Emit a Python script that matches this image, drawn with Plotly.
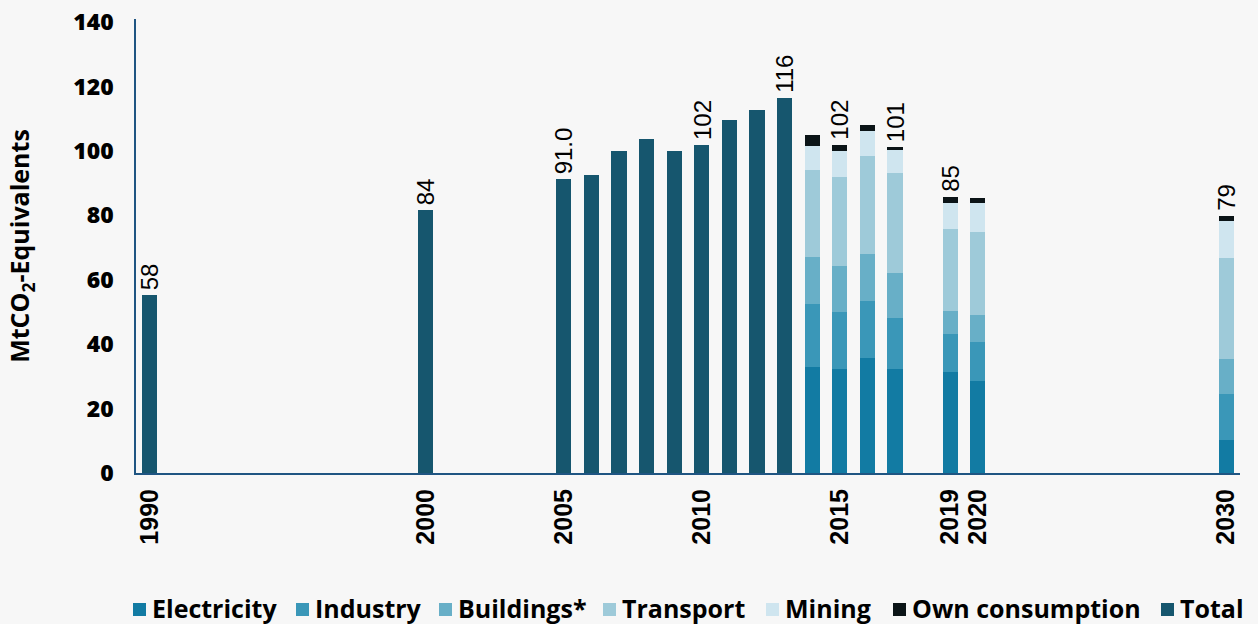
import plotly.graph_objects as go

# ---- data ----
total_years = ["1990", "2000", "2005", "2006", "2007", "2008", "2009", "2010", "2011", "2012", "2013"]
total_values = [55.3, 81.7, 91.3, 92.4, 100.1, 103.6, 100.1, 101.8, 109.7, 112.7, 116.4]

sector_years = ["2014", "2015", "2016", "2017", "2019", "2020", "2030"]
electricity = [33.0, 32.3, 35.8, 32.3, 31.4, 28.6, 10.4]
industry = [19.5, 17.6, 17.5, 15.8, 11.7, 12.1, 14.1]
buildings = [14.5, 14.3, 14.8, 13.9, 7.1, 8.4, 10.9]
transport = [27.0, 27.6, 30.5, 31.2, 25.7, 25.8, 31.4]
mining = [7.5, 8.2, 7.7, 7.2, 8.0, 8.9, 11.4]
own_consumption = [3.5, 1.9, 1.8, 0.8, 1.8, 1.7, 1.6]

label_years = ["1990", "2000", "2005", "2010", "2013", "2015", "2017", "2019", "2030"]
label_texts = ["58", "84", "91.0", "102", "116", "102", "101", "85", "79"]

category_order = [str(y) for y in range(1990, 2029)] + ["2030"]
tick_years = ["1990", "2000", "2005", "2010", "2015", "2019", "2020", "2030"]

# ---- style ----
colors = {
    "Electricity": "#127ba3",
    "Industry": "#3a97b8",
    "Buildings*": "#68afc7",
    "Transport": "#9ecad9",
    "Mining": "#cfe5ef",
    "Own consumption": "#0b1417",
    "Total": "#16566e",
}
bg = "#f7f7f7"
axis_col = "#1f5582"

W, H = 1258, 624
ML, MR, MT, MB = 136, 18, 19, 151
PW, PH = W - ML - MR, H - MT - MB

fig = go.Figure()
series = [
    ("Electricity", electricity),
    ("Industry", industry),
    ("Buildings*", buildings),
    ("Transport", transport),
    ("Mining", mining),
    ("Own consumption", own_consumption),
]
for name, vals in series:
    fig.add_trace(go.Bar(x=sector_years, y=vals, name=name, marker_color=colors[name],
                         marker_line_width=0, showlegend=False))
fig.add_trace(go.Bar(x=total_years, y=total_values, name="Total", marker_color=colors["Total"],
                     marker_line_width=0, showlegend=False))

# totals for labels
totals = dict(zip(total_years, total_values))
for i, yr in enumerate(sector_years):
    totals[yr] = sum(v[i] for _, v in series)

for yr, txt in zip(label_years, label_texts):
    fig.add_annotation(x=category_order.index(yr), y=totals[yr], text=txt, showarrow=False,
                       textangle=-90, yanchor="bottom", xanchor="center", yshift=3,
                       font=dict(family="Liberation Sans", size=24, color="#000000"))

# ---- legend (drawn as key squares + labels below the plot) ----
legend_names = [n for n, _ in series] + ["Total"]
legend_px = [133, 296, 439, 603, 766, 893, 1161]   # left edge of each key square (px)
key = 13
key_top, key_bot = 603, 616
for name, px in zip(legend_names, legend_px):
    fig.add_shape(type="rect", xref="paper", yref="paper",
                  x0=(px - ML) / PW, x1=(px + key - ML) / PW,
                  y0=(H - MB - key_bot) / PH, y1=(H - MB - key_top) / PH,
                  fillcolor=colors[name], line_width=0)
    fig.add_annotation(xref="paper", yref="paper", x=(px + key + 4 - ML) / PW,
                       y=(H - MB - 608) / PH, text=name, showarrow=False,
                       xanchor="left", yanchor="middle",
                       font=dict(family="Open Sans", size=25, color="#000000", weight=700))

fig.update_layout(
    width=W, height=H,
    paper_bgcolor=bg, plot_bgcolor=bg,
    barmode="stack", bargap=0.45,
    margin=dict(l=ML, r=MR, t=MT, b=MB, autoexpand=False),
    showlegend=False,
    font=dict(family="Open Sans", color="#000000"),
)
fig.update_xaxes(type="category", categoryorder="array", categoryarray=category_order,
                 range=[-0.5, 39.5],
                 tickmode="array", tickvals=tick_years, ticktext=tick_years, tickangle=-90,
                 tickfont=dict(family="Liberation Sans", size=25, color="#000000", weight=700),
                 showline=True, linecolor=axis_col, linewidth=2, showgrid=False,
                 ticks="", ticklabelstandoff=4, automargin=False)
fig.update_yaxes(range=[0, 141], tickvals=[0, 20, 40, 60, 80, 100, 120, 140],
                 tickfont=dict(family="Open Sans", size=23, color="#000000", weight=800),
                 showline=True, linecolor=axis_col, linewidth=1.5, showgrid=False,
                 zeroline=False, ticks="", ticklabelstandoff=16,
                 title=dict(text="MtCO<sub>2</sub>-Equivalents", standoff=36,
                            font=dict(family="Open Sans", size=25, color="#000000", weight=700)),
                 automargin=False)

fig.write_html("out.html", config={"displayModeBar": False},
               post_script="document.body.style.margin='0';document.body.style.background='#f7f7f7';")
